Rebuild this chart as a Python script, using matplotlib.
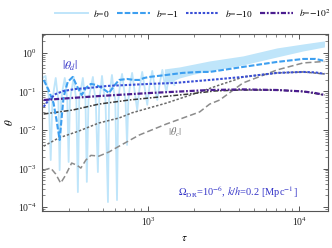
import matplotlib
matplotlib.use("Agg")
import matplotlib.pyplot as plt
from matplotlib.lines import Line2D

plt.rcParams['font.family'] = ['Liberation Serif', 'DejaVu Serif']
plt.rcParams['mathtext.fontset'] = 'stix'

# ---------------- data ----------------
# b = 0 : theta_d (oscillating part)
b0_tau = [200, 209, 214, 219, 226, 232, 238, 244, 249, 254, 259, 265, 272, 280, 286, 291, 297,
          303, 313, 321, 327, 334, 342, 349, 359, 369, 376, 384, 392, 402, 417, 430, 438, 449,
          464, 474, 486, 494, 505, 521, 541, 550, 563, 575, 588, 605, 621, 633, 651, 671, 690,
          707, 724, 738, 760, 782, 810, 845, 875, 912, 945, 985, 1020, 1063, 1100, 1148, 1190,
          1240, 1280, 1318, 1360, 1403, 1450, 1490]
b0_theta = [0.224, 0.253, 0.12, 0.081, 0.00166, 0.06, 0.12, 0.224, 0.11, 0.06, 0.00091, 0.06,
            0.12, 0.224, 0.11, 0.06, 0.00148, 0.06, 0.13, 0.238, 0.11, 0.06, 0.000245, 0.06,
            0.12, 0.224, 0.11, 0.06, 0.00045, 0.06, 0.13, 0.238, 0.11, 0.06, 0.00081, 0.06,
            0.13, 0.253, 0.11, 0.06, 0.000135, 0.06, 0.14, 0.268, 0.12, 0.06, 0.000152, 0.06,
            0.15, 0.285, 0.12, 0.06, 0.0041, 0.06, 0.16, 0.303, 0.11, 0.033, 0.12, 0.321, 0.13,
            0.045, 0.14, 0.341, 0.14, 0.06, 0.16, 0.362, 0.17, 0.097, 0.20, 0.362, 0.22, 0.148]
# b = 0 : theta_d (fast-oscillation band at late times)
b0_band_tau = [1279, 1610, 2027, 2551, 4236, 7129, 10630, 14680]
b0_band_lo = [0.148, 0.224, 0.285, 0.341, 0.488, 0.787, 1.127, 1.43]
b0_band_hi = [0.384, 0.433, 0.518, 0.62, 0.836, 1.35, 1.71, 2.05]

# b = -1 : theta_d
b1_tau = [203, 219, 236, 247, 259, 267, 275, 293, 316, 342, 363, 386, 417, 450, 494, 550, 593,
          641, 724, 807, 871, 940, 1015, 1318, 1686, 2188, 2551, 4236, 7129, 10630, 12790, 14680]
b1_theta = [0.199, 0.109, 0.050, 0.018, 0.0055, 0.0205, 0.072, 0.177, 0.238, 0.123, 0.081,
            0.123, 0.157, 0.148, 0.123, 0.091, 0.139, 0.199, 0.211, 0.199, 0.199, 0.224, 0.238,
            0.268, 0.303, 0.321, 0.321, 0.433, 0.584, 0.698, 0.698, 0.62]

# b = -10 : theta_d
b10_tau = [203, 219, 244, 275, 331, 404, 533, 747, 1015, 1490, 2551, 4236, 7129, 10630, 12790, 14680]
b10_theta = [0.040, 0.060, 0.086, 0.103, 0.116, 0.123, 0.139, 0.148, 0.157, 0.166, 0.199,
             0.238, 0.303, 0.321, 0.312, 0.285]

# b = -100 : theta_d
b100_tau = [203, 316, 471, 1015, 2551, 4236, 7129, 10630, 12790, 14680]
b100_theta = [0.060, 0.068, 0.076, 0.091, 0.109, 0.113, 0.109, 0.100, 0.091, 0.081]

# theta_c curves
c1_tau = [203, 226, 244, 263, 284, 311, 336, 358, 386, 417, 471, 550, 641, 871, 1318, 2188,
          2551, 2973, 4236, 7129, 10630, 14680]
c1_theta = [0.00091, 0.00103, 0.00072, 0.00042, 0.00068, 0.00139, 0.00123, 0.00103, 0.00166,
            0.0022, 0.0021, 0.0027, 0.0038, 0.0074, 0.0143, 0.0294, 0.047, 0.060, 0.166, 0.362,
            0.55, 0.60]
c10_tau = [203, 255, 347, 471, 641, 782, 1318, 2188, 2973, 3743, 4236, 7129, 10630, 14680]
c10_theta = [0.0038, 0.0062, 0.0094, 0.0152, 0.0205, 0.028, 0.050, 0.097, 0.148, 0.199, 0.238,
             0.303, 0.321, 0.285]
c100_tau = [203, 316, 471, 747, 1184, 1876, 2754, 4045, 7129, 10630, 14680]
c100_theta = [0.026, 0.033, 0.047, 0.060, 0.072, 0.086, 0.103, 0.109, 0.109, 0.100, 0.081]

legend_labels = ['$b$=0', '$b$=$-$1', '$b$=$-$10', '$b$=$-10^2$']

# ---------------- colours ----------------
col_b0 = '#bfe5fa'
col_b1 = '#3d9ff0'
col_b10 = '#3a4fd6'
col_b100 = '#4b1d8f'

fig = plt.figure(figsize=(3.32, 2.48), dpi=100)
ax = fig.add_axes([0.1256, 0.149, 0.8624, 0.714])

# theta_c (gray)
ax.plot(c1_tau, c1_theta, color='#8c8c8c', lw=1.1, dashes=(4, 2), zorder=2)
ax.plot(c10_tau, c10_theta, color='#6a6a6a', lw=1.1, dashes=(1.6, 1.2), zorder=2)
ax.plot(c100_tau, c100_theta, color='#3a3a3a', lw=1.1, dashes=(3.2, 1.2, 1.0, 1.2), zorder=2)

# b = 0
ax.plot(b0_tau, b0_theta, color=col_b0, lw=1.3, zorder=1)
ax.fill_between(b0_band_tau, b0_band_lo, b0_band_hi, color=col_b0, lw=0, zorder=1)

# theta_d for other b
ax.plot(b1_tau, b1_theta, color=col_b1, lw=1.5, dashes=(2.7, 1.0), zorder=3)
ax.plot(b10_tau, b10_theta, color=col_b10, lw=1.5, dashes=(1.2, 0.8), zorder=3)
ax.plot(b100_tau, b100_theta, color=col_b100, lw=1.6, dashes=(2.3, 0.8, 0.8, 0.8), zorder=4)

ax.set_xscale('log')
ax.set_yscale('log')
ax.set_xlim(197, 15500)
ax.set_ylim(7.9e-5, 3.1)

for sp in ax.spines.values():
    sp.set_color('#555555')
    sp.set_linewidth(0.8)
ax.tick_params(which='both', direction='in', top=True, right=True, colors='#555555',
               labelcolor='#222222', labelsize=7)
ax.tick_params(which='major', length=3.5, width=0.7)
ax.tick_params(which='minor', length=2, width=0.5)
ax.set_xlabel(r'$\tau$', fontsize=8, labelpad=4)
ax.set_ylabel(r'$\theta$', fontsize=8, labelpad=2)

ax.text(0.099, 0.819, r'$|\theta_d|$', transform=ax.transAxes, color='#3535c8',
        fontsize=8.5, ha='center', va='center')
ax.text(0.465, 0.446, r'$|\theta_c|$', transform=ax.transAxes, color='#707070',
        fontsize=7.5, ha='center', va='center')
ax.text(0.686, 0.107, r'$\Omega_{\rm DR}$=10$^{-6}$, $k/h$=0.2 [Mpc$^{-1}$]',
        transform=ax.transAxes, color='#3535c8', fontsize=7.5, ha='center', va='center')

handles = [Line2D([], [], color=col_b0, lw=1.4),
           Line2D([], [], color=col_b1, lw=1.5, dashes=(2.7, 1.0)),
           Line2D([], [], color=col_b10, lw=1.5, dashes=(1.2, 0.8)),
           Line2D([], [], color=col_b100, lw=1.6, dashes=(2.3, 0.8, 0.8, 0.8))]
fig.legend(handles, legend_labels, loc='center', bbox_to_anchor=(0.58, 0.948), ncol=4,
           frameon=False, fontsize=6.8, handlelength=3.5, handletextpad=0.6,
           columnspacing=0.8, borderpad=0.2)

fig.savefig('out.png', dpi=100)
